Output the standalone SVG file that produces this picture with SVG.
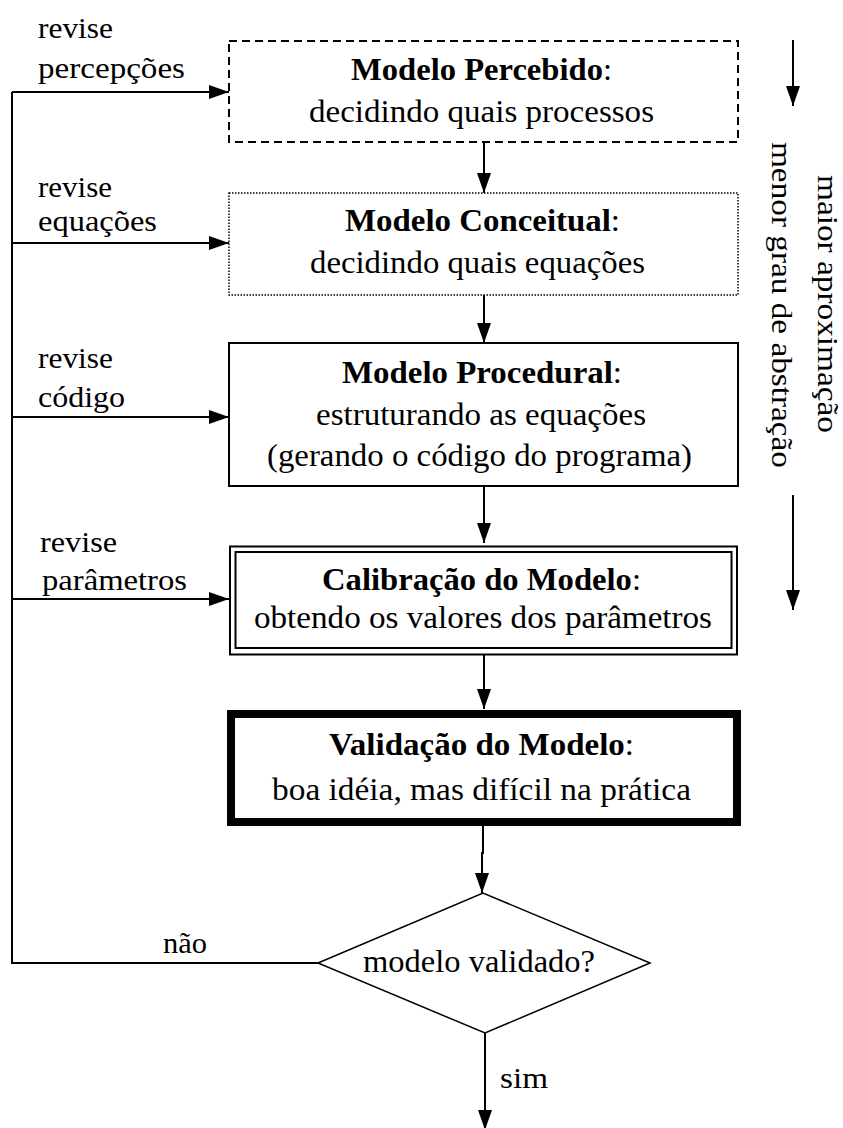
<svg xmlns="http://www.w3.org/2000/svg" width="843" height="1128" viewBox="0 0 843 1128">
<style>
text{font-family:"Liberation Serif","Times New Roman",serif;font-size:32px;fill:#000}
.b{font-weight:bold}
.lb{font-size:30px}
.ln{stroke:#000;stroke-width:2;fill:none}
.box{fill:#fff;stroke:#000}
</style>
<defs>
<marker id="ah" viewBox="0 0 20 16" refX="20" refY="8" markerWidth="20" markerHeight="16" markerUnits="userSpaceOnUse" orient="auto">
<path d="M0,1 L20,8 L0,15 z" fill="#000"/>
</marker>
</defs>
<rect width="843" height="1128" fill="#fff"/>

<g id="connectors">
<path class="ln" d="M12,92 V963 H318"/>
<path class="ln" d="M12,92 H229" marker-end="url(#ah)"/>
<path class="ln" d="M12,243 H229" marker-end="url(#ah)"/>
<path class="ln" d="M12,417 H229" marker-end="url(#ah)"/>
<path class="ln" d="M12,599 H229" marker-end="url(#ah)"/>
<path class="ln" d="M484,142 V193" marker-end="url(#ah)"/>
<path class="ln" d="M484,295 V343" marker-end="url(#ah)"/>
<path class="ln" d="M484,487 V543" marker-end="url(#ah)"/>
<path class="ln" d="M484,655 V709" marker-end="url(#ah)"/>
<path class="ln" d="M483,826 V853 H482 V893" marker-end="url(#ah)"/>
<path class="ln" d="M485,1033 V1130" marker-end="url(#ah)"/>
<path class="ln" d="M793,40 V106" marker-end="url(#ah)"/>
<path class="ln" d="M793,495 V610" marker-end="url(#ah)"/>
<text class="lb" x="38" y="38" textLength="75" lengthAdjust="spacingAndGlyphs">revise</text>
<text class="lb" x="38" y="78" textLength="147" lengthAdjust="spacingAndGlyphs">percepções</text>
<text class="lb" x="38" y="197" textLength="74" lengthAdjust="spacingAndGlyphs">revise</text>
<text class="lb" x="38" y="231" textLength="119" lengthAdjust="spacingAndGlyphs">equações</text>
<text class="lb" x="38" y="368" textLength="75" lengthAdjust="spacingAndGlyphs">revise</text>
<text class="lb" x="38" y="407" textLength="87" lengthAdjust="spacingAndGlyphs">código</text>
<text class="lb" x="40" y="552" textLength="77" lengthAdjust="spacingAndGlyphs">revise</text>
<text class="lb" x="42" y="590" textLength="145" lengthAdjust="spacingAndGlyphs">parâmetros</text>
<text class="lb" x="163" y="953" textLength="44" lengthAdjust="spacingAndGlyphs">não</text>
<text class="lb" x="500" y="1088" textLength="48" lengthAdjust="spacingAndGlyphs">sim</text>
</g>

<g id="abstracao">
<text class="lb" transform="translate(772,142) rotate(90)" textLength="326" lengthAdjust="spacingAndGlyphs">menor grau de abstração</text>
<text class="lb" transform="translate(818,175) rotate(90)" textLength="258" lengthAdjust="spacingAndGlyphs">maior aproximação</text>
</g>

<g id="percebido">
<rect class="box" x="229" y="41" width="509" height="101" stroke-width="2" stroke-dasharray="8 5"/>
<text x="351" y="80" textLength="261" lengthAdjust="spacingAndGlyphs"><tspan class="b">Modelo Percebido</tspan>:</text>
<text x="309" y="122" textLength="345" lengthAdjust="spacingAndGlyphs">decidindo quais processos</text>
</g>

<g id="conceitual">
<rect class="box" x="229" y="193" width="509" height="102" stroke-width="1.5" stroke-dasharray="1.5 1.5"/>
<text x="345" y="231" textLength="275" lengthAdjust="spacingAndGlyphs"><tspan class="b">Modelo Conceitual</tspan>:</text>
<text x="310" y="273" textLength="335" lengthAdjust="spacingAndGlyphs">decidindo quais equações</text>
</g>

<g id="procedural">
<rect class="box" x="229" y="343" width="509" height="143" stroke-width="2"/>
<text x="342" y="383" textLength="280" lengthAdjust="spacingAndGlyphs"><tspan class="b">Modelo Procedural</tspan>:</text>
<text x="316" y="425" textLength="330" lengthAdjust="spacingAndGlyphs">estruturando as equações</text>
<text x="267" y="466" textLength="425" lengthAdjust="spacingAndGlyphs">(gerando o código do programa)</text>
</g>

<g id="calibracao">
<rect class="box" x="230" y="546.5" width="507" height="108" stroke-width="2"/>
<rect class="box" x="235.5" y="552" width="496" height="96" stroke-width="2"/>
<text x="322" y="590" textLength="319" lengthAdjust="spacingAndGlyphs"><tspan class="b">Calibração do Modelo</tspan>:</text>
<text x="254" y="628" textLength="458" lengthAdjust="spacingAndGlyphs">obtendo os valores dos parâmetros</text>
</g>

<g id="validacao">
<rect class="box" x="231" y="714" width="506" height="108" stroke-width="8"/>
<text x="329" y="755" textLength="305" lengthAdjust="spacingAndGlyphs"><tspan class="b">Validação do Modelo</tspan>:</text>
<text x="272" y="800" textLength="419" lengthAdjust="spacingAndGlyphs">boa idéia, mas difícil na prática</text>
</g>

<g id="decisao">
<polygon class="box" points="318,963 483,893 650,963 485,1033" stroke-width="1.5"/>
<text x="363" y="972" textLength="232" lengthAdjust="spacingAndGlyphs">modelo validado?</text>
</g>
</svg>
